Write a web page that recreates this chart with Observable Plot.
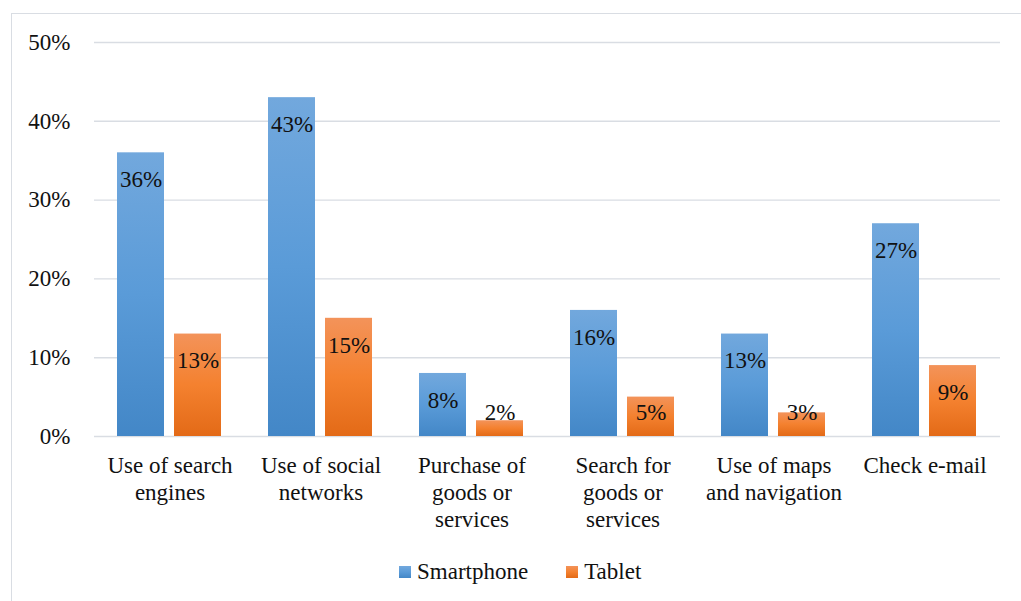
<!DOCTYPE html>
<html>
<head>
<meta charset="utf-8">
<script src="https://cdn.jsdelivr.net/npm/d3@7"></script>
<script src="https://cdn.jsdelivr.net/npm/@observablehq/plot@0.6"></script>
<style>
  html, body { margin: 0; padding: 0; background: #fff; overflow: hidden; }
  #wrap { position: relative; width: 1021px; height: 601px; }
  #frame { position: absolute; left: 11px; top: 13px; width: 1030px; height: 610px; border-left: 1.5px solid #d9dde3; border-top: 1.5px solid #d9dde3; box-sizing: border-box; }
  #chart { position: absolute; left: 0; top: 0; }
  #legend { position: absolute; left: 399px; top: 559px; display: flex; align-items: center; font-size: 23px; color: #111; line-height: 26px; }
  .item { display: flex; align-items: center; }
  .sw { width: 12px; height: 12px; margin-right: 6px; }
</style>
</head>
<body>
<div id="wrap">
  <div id="frame"></div>
  <div id="chart"></div>
  <div id="legend"></div>
</div>
<script>
const categories = ["Use of search engines", "Use of social networks", "Purchase of goods or services", "Search for goods or services", "Use of maps and navigation", "Check e-mail"];
const categoryLabels = ["Use of search\nengines", "Use of social\nnetworks", "Purchase of\ngoods or\nservices", "Search for\ngoods or\nservices", "Use of maps\nand navigation", "Check e-mail"];
const series = ["Smartphone", "Tablet"];
const smartphone = [36, 43, 8, 16, 13, 27];
const tablet = [13, 15, 2, 5, 3, 9];
const yTicks = [0, 10, 20, 30, 40, 50];
const gradients = {
  Smartphone: ["#72a8dd", "#5a9bd8", "#4387c7"],
  Tablet: ["#f3935a", "#f4812f", "#e36a17"]
};

const rows = [];
categories.forEach((c, i) => {
  rows.push({category: c, series: "Smartphone", value: smartphone[i]});
  rows.push({category: c, series: "Tablet", value: tablet[i]});
});

const W = 1021, H = 545, mt = 42, mb = 109, ml = 93, mr = 20;
const k = (H - mt - mb) / 50; // px per percentage point
rows.forEach(d => { d.labelY = Math.max(d.value - 27 / k, 24 / k); });

const labelOf = new Map(categories.map((c, i) => [c, categoryLabels[i]]));
const font = "'Liberation Serif', 'Times New Roman', serif";

const plot = Plot.plot({
  width: W, height: H,
  marginTop: mt, marginBottom: mb, marginLeft: ml, marginRight: mr,
  style: {fontFamily: font, fontSize: "23px", color: "#111", background: "transparent", overflow: "visible"},
  fx: {domain: categories, padding: 0, label: null},
  x: {domain: series, paddingInner: 10 / 58, paddingOuter: 0.39, axis: null},
  y: {domain: [0, 50], axis: null},
  color: {type: "ordinal", domain: series, range: series.map(s => `url(#grad-${s})`)},
  marks: [
    Plot.gridY(yTicks, {stroke: "#d9dde3", strokeOpacity: 1, strokeWidth: 1.4}),
    Plot.axisY(yTicks, {anchor: "left", tickSize: 0, tickPadding: 24, tickFormat: d => d + "%", fontSize: 23, fill: "#111", label: null}),
    Plot.axisFx({anchor: "bottom", tickSize: 0, tickPadding: 17, lineHeight: 1.18, fontSize: 23, fill: "#111", tickFormat: d => labelOf.get(d), label: null}),
    Plot.barY(rows, {fx: "category", x: "series", y: "value", fill: "series"}),
    Plot.text(rows, {fx: "category", x: "series", y: "labelY", text: d => d.value + "%", fontSize: 23, fill: "#111"})
  ]
});
plot.style.setProperty("font-family", font, "important");
plot.querySelectorAll("text, tspan").forEach(t => {
  t.setAttribute("font-family", font);
  t.style.setProperty("font-family", font, "important");
});

const defs = d3.select(plot).insert("defs", ":first-child");
series.forEach(s => {
  const g = defs.append("linearGradient").attr("id", `grad-${s}`).attr("x1", 0).attr("y1", 0).attr("x2", 0).attr("y2", 1);
  gradients[s].forEach((c, i) => g.append("stop").attr("offset", i / (gradients[s].length - 1)).attr("stop-color", c));
});
document.getElementById("chart").appendChild(plot);

const legend = document.getElementById("legend");
series.forEach((s, i) => {
  const item = document.createElement("div");
  item.className = "item";
  if (i > 0) item.style.marginLeft = "38px";
  const sw = document.createElement("div");
  sw.className = "sw";
  sw.style.background = `linear-gradient(to bottom, ${gradients[s].join(", ")})`;
  const t = document.createElement("span");
  t.textContent = s;
  t.style.setProperty("font-family", font, "important");
  item.appendChild(sw); item.appendChild(t);
  legend.appendChild(item);
});
</script>
</body>
</html>
